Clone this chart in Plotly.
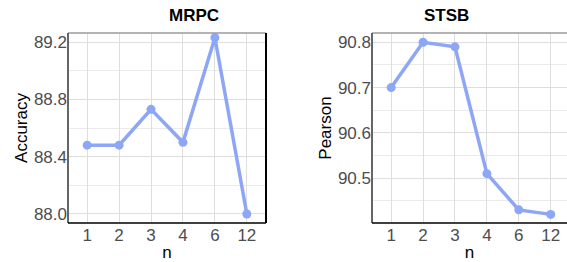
import plotly.graph_objects as go

n_labels = ["1", "2", "3", "4", "6", "12"]
mrpc_acc = [88.48, 88.48, 88.73, 88.50, 89.23, 88.00]
stsb_pearson = [90.70, 90.80, 90.79, 90.51, 90.43, 90.42]

W, H = 567, 262
LINE = "#8DA6F5"
TICKC = "#4D4D4D"
FONT = "Liberation Sans, Arial, sans-serif"

fig = go.Figure()
fig.add_trace(go.Scatter(x=list(range(6)), y=mrpc_acc, mode="lines+markers",
                         line=dict(color=LINE, width=3.5), marker=dict(color=LINE, size=9),
                         xaxis="x", yaxis="y", showlegend=False))
fig.add_trace(go.Scatter(x=list(range(6)), y=stsb_pearson, mode="lines+markers",
                         line=dict(color=LINE, width=3.5), marker=dict(color=LINE, size=9),
                         xaxis="x2", yaxis="y2", showlegend=False))

d1 = [68 / W, 266 / W]
d2 = [372 / W, 1.0]
yd = [(H - 223) / H, (H - 33) / H]

common_x = dict(tickmode="array", tickvals=list(range(6)), ticktext=n_labels,
                showgrid=True, gridcolor="#DEDEDE", gridwidth=1, zeroline=False,
                ticks="", tickfont=dict(size=17, color=TICKC, family=FONT),
                title=dict(text="n", font=dict(size=17, color="black", family=FONT), standoff=4),
                showline=False)
common_y = dict(showgrid=True, gridcolor="#DEDEDE", gridwidth=1, zeroline=False,
                ticks="", tickfont=dict(size=17, color=TICKC, family=FONT),
                showline=False)

fig.update_layout(
    width=W, height=H, margin=dict(l=0, r=0, t=0, b=0),
    paper_bgcolor="white", plot_bgcolor="white",
    font=dict(family=FONT),
    xaxis=dict(domain=d1, range=[-0.6, 5.6], anchor="y", **common_x),
    yaxis=dict(domain=yd, range=[87.937, 89.263], anchor="x",
               tickvals=[88.0, 88.4, 88.8, 89.2], ticktext=["88.0", "88.4", "88.8", "89.2"],
               minor=dict(tickvals=[88.2, 88.6, 89.0], showgrid=True, gridcolor="#EBEBEB", ticks=""),
               title=dict(text="Accuracy", font=dict(size=17, color="black", family=FONT), standoff=1),
               **common_y),
    xaxis2=dict(domain=d2, range=[-0.6, 5.51], anchor="y2", **common_x),
    yaxis2=dict(domain=yd, range=[90.401, 90.8205], anchor="x2",
                tickvals=[90.5, 90.6, 90.7, 90.8], ticktext=["90.5", "90.6", "90.7", "90.8"],
                minor=dict(tickvals=[90.45, 90.55, 90.65, 90.75], showgrid=True, gridcolor="#EBEBEB", ticks=""),
                title=dict(text="Pearson", font=dict(size=17, color="black", family=FONT), standoff=1),
                **common_y),
)

# panel borders
for (x0, x1) in [d1, d2]:
    fig.add_shape(type="line", xref="paper", yref="paper", x0=x0, x1=x1, y0=yd[1], y1=yd[1],
                  line=dict(color="#9A9A9A", width=1.5))
    fig.add_shape(type="line", xref="paper", yref="paper", x0=x0, x1=x0, y0=yd[0], y1=yd[1],
                  line=dict(color="#333333", width=1.5))
    fig.add_shape(type="line", xref="paper", yref="paper", x0=x0, x1=x1, y0=yd[0], y1=yd[0],
                  line=dict(color="black", width=1.5))
fig.add_shape(type="line", xref="paper", yref="paper", x0=d1[1], x1=d1[1], y0=yd[0], y1=yd[1],
              line=dict(color="black", width=2))

fig.add_annotation(text="<b>MRPC</b>", xref="paper", yref="paper", x=(d1[0] + d1[1]) / 2, y=(H - 16) / H,
                   showarrow=False, font=dict(size=17, color="black", family=FONT), yanchor="middle")
fig.add_annotation(text="<b>STSB</b>", xref="paper", yref="paper", x=(372 + 570) / 2 / W, y=(H - 16) / H,
                   showarrow=False, font=dict(size=17, color="black", family=FONT), yanchor="middle")

fig.write_html("out.html", config={"displayModeBar": False},
               post_script="document.body.style.margin='0';document.body.style.overflow='hidden';")
